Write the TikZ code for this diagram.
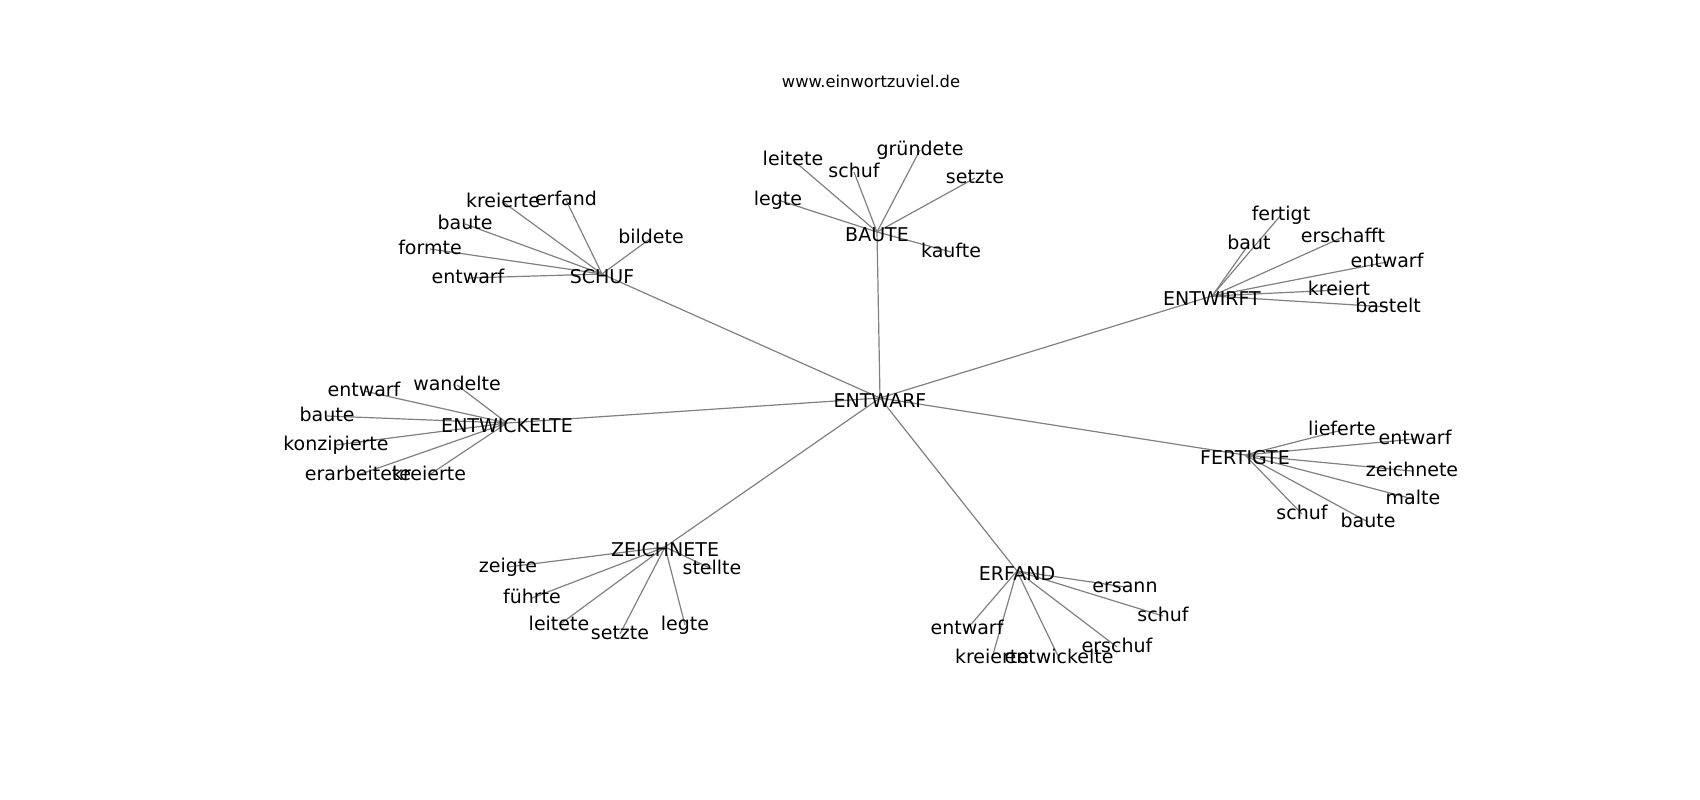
\documentclass[tikz,border=0pt]{standalone}
\usepackage{fontspec}
\setmainfont{DejaVu Sans}
\usetikzlibrary{backgrounds}
\tikzset{
  lbl/.style={inner sep=0pt, text height=14.4pt, text depth=2.5pt,
    font=\fontsize{19}{22}\selectfont, text=black},
  hub/.style={lbl, text height=24pt, text depth=4.5pt},
  ttl/.style={inner sep=0pt, text height=12.4pt, text depth=3.9pt,
    font=\fontsize{16.3}{19}\selectfont, text=black},
  edg/.style={draw=gray, line width=1.2pt}
}
\begin{document}
\begin{tikzpicture}[x=1pt,y=-1pt]
\useasboundingbox (0,0) rectangle (1700,800);
\node[ttl] (title) at (871,83) {www.einwortzuviel.de};
% center
\node[hub] (c) at (880,398) {ENTWARF};
% hubs
\node[hub] (h1) at (877,232) {BAUTE};
\node[hub] (h2) at (602,274) {SCHUF};
\node[hub] (h3) at (1212,296) {ENTWIRFT};
\node[hub] (h4) at (507,423) {ENTWICKELTE};
\node[hub] (h5) at (1245,455) {FERTIGTE};
\node[hub] (h6) at (665,547) {ZEICHNETE};
\node[hub] (h7) at (1017,571) {ERFAND};
% BAUTE leaves
\node[lbl] (a1) at (793,160) {leitete};
\node[lbl] (a2) at (854,172) {schuf};
\node[lbl] (a3) at (920,150) {gründete};
\node[lbl] (a4) at (975,178) {setzte};
\node[lbl] (a5) at (778,200) {legte};
\node[lbl] (a6) at (951,252) {kaufte};
% SCHUF leaves
\node[lbl] (b1) at (503,202) {kreierte};
\node[lbl] (b2) at (566,200) {erfand};
\node[lbl] (b3) at (465,224) {baute};
\node[lbl] (b4) at (430,249) {formte};
\node[lbl] (b5) at (468,278) {entwarf};
\node[lbl] (b6) at (651,238) {bildete};
% ENTWIRFT leaves
\node[lbl] (d1) at (1281,215) {fertigt};
\node[lbl] (d2) at (1249,244) {baut};
\node[lbl] (d3) at (1343,237) {erschafft};
\node[lbl] (d4) at (1387,262) {entwarf};
\node[lbl] (d5) at (1339,290) {kreiert};
\node[lbl] (d6) at (1388,307) {bastelt};
% ENTWICKELTE leaves
\node[lbl] (e1) at (457,385) {wandelte};
\node[lbl] (e2) at (364,391) {entwarf};
\node[lbl] (e3) at (327,416) {baute};
\node[lbl] (e4) at (336,445) {konzipierte};
\node[lbl] (e5) at (358,475) {erarbeitete};
\node[lbl] (e6) at (429,475) {kreierte};
% FERTIGTE leaves
\node[lbl] (f1) at (1342,430) {lieferte};
\node[lbl] (f2) at (1415,439) {entwarf};
\node[lbl] (f3) at (1412,471) {zeichnete};
\node[lbl] (f4) at (1413,499) {malte};
\node[lbl] (f5) at (1302,514) {schuf};
\node[lbl] (f6) at (1368,522) {baute};
% ZEICHNETE leaves
\node[lbl] (g1) at (508,567) {zeigte};
\node[lbl] (g2) at (712,569) {stellte};
\node[lbl] (g3) at (532,598) {führte};
\node[lbl] (g4) at (559,625) {leitete};
\node[lbl] (g5) at (620,634) {setzte};
\node[lbl] (g6) at (685,625) {legte};
% ERFAND leaves
\node[lbl] (k1) at (1125,587) {ersann};
\node[lbl] (k2) at (1163,616) {schuf};
\node[lbl] (k3) at (967,629) {entwarf};
\node[lbl] (k4) at (1117,647) {erschuf};
\node[lbl] (k5) at (992,658) {kreierte};
\node[lbl] (k6) at (1059,658) {entwickelte};
\begin{scope}[on background layer]
\foreach \h in {h1,h2,h3,h4,h5,h6,h7}
  \draw[edg] (c.center) -- (\h.center);
\foreach \l in {a1,a2,a3,a4,a5,a6}
  \draw[edg] (h1.center) -- (\l.center);
\foreach \l in {b1,b2,b3,b4,b5,b6}
  \draw[edg] (h2.center) -- (\l.center);
\foreach \l in {d1,d2,d3,d4,d5,d6}
  \draw[edg] (h3.center) -- (\l.center);
\foreach \l in {e1,e2,e3,e4,e5,e6}
  \draw[edg] (h4.center) -- (\l.center);
\foreach \l in {f1,f2,f3,f4,f5,f6}
  \draw[edg] (h5.center) -- (\l.center);
\foreach \l in {g1,g2,g3,g4,g5,g6}
  \draw[edg] (h6.center) -- (\l.center);
\foreach \l in {k1,k2,k3,k4,k5,k6}
  \draw[edg] (h7.center) -- (\l.center);
\end{scope}
\end{tikzpicture}
\end{document}
